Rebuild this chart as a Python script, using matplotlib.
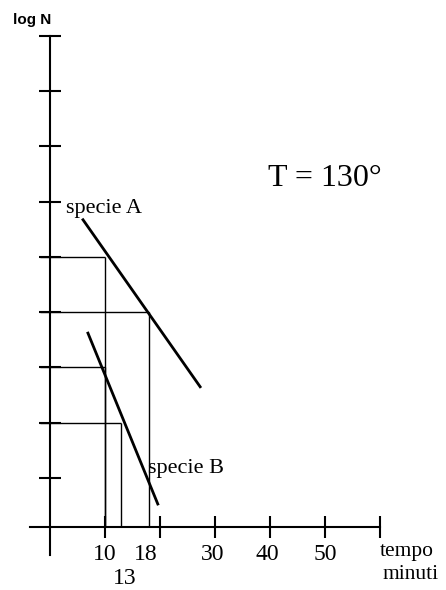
import matplotlib.pyplot as plt

# survival curves at constant temperature: log N against time (minutes)
time_ticks = [10, 20, 30, 40, 50, 60]
logn_ticks = [1, 2, 3, 4, 5, 6, 7, 8, 9]

# straight-line fits for the two species (end points)
a_time = [6.0, 27.3]
a_logn = [5.67, 2.65]
b_time = [6.9, 19.6]
b_logn = [3.62, 0.53]

# read-off guides: (time, log N) pairs
guide_time = [10, 18, 10, 13]
guide_logn = [5, 4, 3, 2]

# printed time labels and where they sit
tlab_text = ['10', '18', '30', '40', '50', '13']
tlab_x = [10, 17.4, 29.6, 39.6, 50, 13.6]
tlab_y = [-0.39, -0.39, -0.39, -0.39, -0.39, -0.81]

base = 0.11  # height where the time axis crosses

SERIF = ['Liberation Serif', 'DejaVu Serif']

fig = plt.figure(figsize=(4.46, 5.90), dpi=100)
ax = fig.add_axes([0, 0, 1, 1])
ax.set_xlim(-9.09, 72.0)
ax.set_ylim(-1.025, 9.644)

for s in ('top', 'right'):
    ax.spines[s].set_visible(False)
ax.spines['left'].set_position(('data', 0))
ax.spines['left'].set_bounds(-0.4, 9)
ax.spines['bottom'].set_position(('data', base))
ax.spines['bottom'].set_bounds(-3.6, 60)
for s in ('left', 'bottom'):
    ax.spines[s].set_linewidth(1.5)
ax.set_xticks(time_ticks)
ax.set_yticks(logn_ticks)
ax.tick_params(direction='inout', length=15.5, width=1.5,
               labelleft=False, labelbottom=False)

# guide lines to the axes
for t, n in zip(guide_time, guide_logn):
    ax.plot([-1.8, t], [n, n], color='black', lw=1.0, solid_capstyle='butt')
    ax.plot([t, t], [base, n], color='black', lw=1.0, solid_capstyle='butt')

ax.plot(a_time, a_logn, color='black', lw=2.0)
ax.plot(b_time, b_logn, color='black', lw=2.0)

for txt, x, y in zip(tlab_text, tlab_x, tlab_y):
    ax.text(x, y, txt, ha='center', va='center', fontsize=17, family=SERIF)

ax.text(60.0, -0.32, 'tempo', ha='left', va='center', fontsize=15.5, family=SERIF)
ax.text(60.5, -0.74, 'minuti', ha='left', va='center', fontsize=15.5, family=SERIF)
ax.text(2.9, 5.88, 'specie A', ha='left', va='center', fontsize=16, family=SERIF)
ax.text(17.8, 1.18, 'specie B', ha='left', va='center', fontsize=16, family=SERIF)
ax.text(39.6, 6.42, 'T = 130°', ha='left', va='center', fontsize=23, family=SERIF)
ax.text(-6.7, 9.28, 'log N', ha='left', va='center', fontsize=11,
        fontweight='bold', family=['Liberation Sans', 'DejaVu Sans'])

fig.savefig('out.png', dpi=100)
